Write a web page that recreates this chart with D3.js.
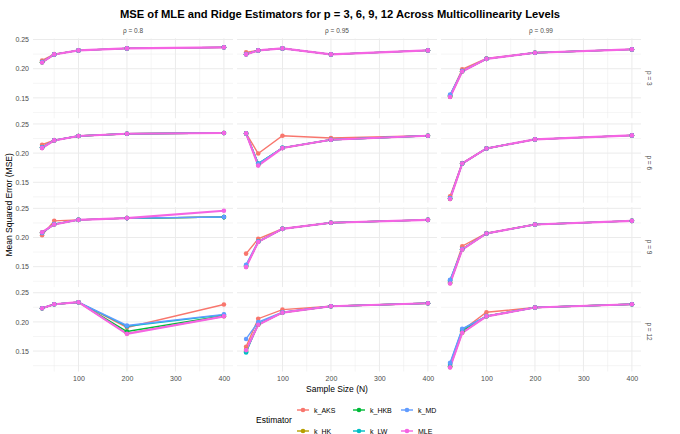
<!DOCTYPE html>
<html><head><meta charset="utf-8">
<script src="https://cdn.jsdelivr.net/npm/d3@7"></script>
<style>body{margin:0;background:#fff;} text{font-family:"Liberation Sans",Arial,sans-serif;}</style>
</head><body><svg id="chart" width="680" height="434"></svg>
<script>
// ---- data ----
const sampleSizes = [25, 50, 100, 200, 400];
const rhoLevels = ["ρ = 0.8", "ρ = 0.95", "ρ = 0.99"];
const pLevels = ["p = 3", "p = 6", "p = 9", "p = 12"];
const estimators = ["k_AKS", "k_HK", "k_HKB", "k_LW", "k_MD", "MLE"];
const colors = ["#F8766D", "#B79F00", "#00BA38", "#00BFC4", "#619CFF", "#F564E3"];
const yTicks = [0.15, 0.20, 0.25];
const xTicks = [100, 200, 300, 400];
// rows of each array: p3-ρ0.8, p3-ρ0.95, p3-ρ0.99, p6-..., p9-..., p12-...
const k_AKS = [
  [0.2141, 0.2250, 0.2314, 0.2348, 0.2366], [0.2280, 0.2314, 0.2348, 0.2245, 0.2314], [0.1540, 0.1991, 0.2175, 0.2273, 0.2331],
  [0.2143, 0.2222, 0.2293, 0.2333, 0.2345], [0.2338, 0.1993, 0.2298, 0.2259, 0.2298], [0.1259, 0.1828, 0.2082, 0.2235, 0.2304],
  [0.2040, 0.2286, 0.2303, 0.2333, 0.2350], [0.1724, 0.1976, 0.2150, 0.2252, 0.2303], [0.1247, 0.1850, 0.2075, 0.2224, 0.2286],
  [0.2234, 0.2303, 0.2338, 0.1905, 0.2298], [0.1575, 0.2055, 0.2211, 0.2269, 0.2321], [0.1260, 0.1853, 0.2165, 0.2246, 0.2303]
];
const k_HK = [
  [0.2110, 0.2245, 0.2314, 0.2348, 0.2366], [0.2248, 0.2314, 0.2348, 0.2245, 0.2314], [0.1520, 0.1955, 0.2169, 0.2273, 0.2331],
  [0.2090, 0.2218, 0.2293, 0.2333, 0.2345], [0.2338, 0.1795, 0.2088, 0.2229, 0.2298], [0.1215, 0.1821, 0.2080, 0.2235, 0.2304],
  [0.2085, 0.2226, 0.2303, 0.2333, 0.2350], [0.1500, 0.1926, 0.2148, 0.2252, 0.2303], [0.1218, 0.1796, 0.2069, 0.2224, 0.2286],
  [0.2234, 0.2303, 0.2338, 0.1800, 0.2098], [0.1520, 0.1953, 0.2160, 0.2269, 0.2321], [0.1225, 0.1815, 0.2097, 0.2246, 0.2303]
];
const k_HKB = [
  [0.2112, 0.2245, 0.2314, 0.2348, 0.2366], [0.2249, 0.2314, 0.2348, 0.2245, 0.2314], [0.1525, 0.1958, 0.2169, 0.2273, 0.2331],
  [0.2095, 0.2219, 0.2293, 0.2333, 0.2345], [0.2338, 0.1818, 0.2089, 0.2229, 0.2298], [0.1220, 0.1821, 0.2080, 0.2235, 0.2304],
  [0.2082, 0.2228, 0.2303, 0.2333, 0.2350], [0.1510, 0.1928, 0.2148, 0.2252, 0.2303], [0.1225, 0.1798, 0.2069, 0.2224, 0.2286],
  [0.2234, 0.2303, 0.2338, 0.1835, 0.2107], [0.1490, 0.1960, 0.2162, 0.2269, 0.2321], [0.1240, 0.1840, 0.2098, 0.2246, 0.2303]
];
const k_LW = [
  [0.2113, 0.2245, 0.2314, 0.2348, 0.2366], [0.2250, 0.2314, 0.2348, 0.2245, 0.2314], [0.1545, 0.1958, 0.2169, 0.2273, 0.2331],
  [0.2098, 0.2219, 0.2293, 0.2333, 0.2345], [0.2338, 0.1821, 0.2090, 0.2229, 0.2298], [0.1225, 0.1821, 0.2080, 0.2235, 0.2304],
  [0.2079, 0.2229, 0.2303, 0.2333, 0.2350], [0.1520, 0.1929, 0.2148, 0.2252, 0.2303], [0.1265, 0.1799, 0.2069, 0.2224, 0.2286],
  [0.2234, 0.2303, 0.2338, 0.1925, 0.2120], [0.1477, 0.1970, 0.2163, 0.2269, 0.2321], [0.1280, 0.1870, 0.2099, 0.2246, 0.2303]
];
const k_MD = [
  [0.2115, 0.2245, 0.2314, 0.2348, 0.2366], [0.2250, 0.2314, 0.2348, 0.2245, 0.2314], [0.1555, 0.1960, 0.2169, 0.2273, 0.2331],
  [0.2100, 0.2220, 0.2293, 0.2333, 0.2345], [0.2338, 0.1815, 0.2090, 0.2229, 0.2298], [0.1230, 0.1821, 0.2080, 0.2235, 0.2304],
  [0.2079, 0.2230, 0.2303, 0.2333, 0.2352], [0.1534, 0.1930, 0.2148, 0.2252, 0.2303], [0.1276, 0.1800, 0.2069, 0.2224, 0.2286],
  [0.2234, 0.2303, 0.2338, 0.1939, 0.2130], [0.1708, 0.1997, 0.2165, 0.2269, 0.2321], [0.1300, 0.1881, 0.2100, 0.2246, 0.2303]
];
const MLE = [
  [0.2107, 0.2245, 0.2314, 0.2348, 0.2366], [0.2245, 0.2314, 0.2348, 0.2245, 0.2314], [0.1514, 0.1952, 0.2169, 0.2273, 0.2331],
  [0.2086, 0.2218, 0.2293, 0.2333, 0.2345], [0.2338, 0.1786, 0.2086, 0.2229, 0.2298], [0.1212, 0.1821, 0.2080, 0.2235, 0.2304],
  [0.2091, 0.2224, 0.2303, 0.2333, 0.2459], [0.1493, 0.1924, 0.2148, 0.2252, 0.2303], [0.1212, 0.1793, 0.2069, 0.2224, 0.2286],
  [0.2234, 0.2303, 0.2338, 0.1795, 0.2095], [0.1517, 0.1951, 0.2159, 0.2269, 0.2321], [0.1220, 0.1812, 0.2095, 0.2246, 0.2303]
];
const seriesValues = [k_AKS, k_HK, k_HKB, k_LW, k_MD, MLE];

// ---- layout ----
const svg = d3.select("#chart");
const panelW = 200, panelH = 80;
const colX = [33, 237, 441];
const rowY = [38.3, 122.7, 207.1, 291.5];
const grid = "#ebebeb";

const allVals = seriesValues.flat(2);
const [vmin, vmax] = d3.extent(allVals);
const ypad = (vmax - vmin) * 0.05;
const xpad = (d3.max(sampleSizes) - d3.min(sampleSizes)) * 0.05;
const color = d3.scaleOrdinal(estimators, colors);

svg.append("text").attr("x", 340).attr("y", 18).attr("text-anchor", "middle")
  .attr("font-size", 11.2).attr("font-weight", "bold").attr("fill", "#000")
  .text("MSE of MLE and Ridge Estimators for p = 3, 6, 9, 12 Across Multicollinearity Levels");

pLevels.forEach((pl, ri) => {
  rhoLevels.forEach((rl, ci) => {
    const x = d3.scaleLinear().domain([d3.min(sampleSizes) - xpad, d3.max(sampleSizes) + xpad]).range([colX[ci], colX[ci] + panelW]);
    const y = d3.scaleLinear().domain([vmin - ypad, vmax + ypad]).range([rowY[ri] + panelH, rowY[ri]]);
    const g = svg.append("g");
    // minor grid
    const xMinor = [50, 150, 250, 350];
    const yMinor = [0.125, 0.175, 0.225];
    g.selectAll(".vxm").data(xMinor).join("line").attr("x1", d => x(d)).attr("x2", d => x(d))
      .attr("y1", rowY[ri]).attr("y2", rowY[ri] + panelH).attr("stroke", grid).attr("stroke-width", 0.5);
    g.selectAll(".hym").data(yMinor).join("line").attr("y1", d => y(d)).attr("y2", d => y(d))
      .attr("x1", colX[ci]).attr("x2", colX[ci] + panelW).attr("stroke", grid).attr("stroke-width", 0.5);
    // major grid
    g.selectAll(".vx").data(xTicks).join("line").attr("x1", d => x(d)).attr("x2", d => x(d))
      .attr("y1", rowY[ri]).attr("y2", rowY[ri] + panelH).attr("stroke", grid).attr("stroke-width", 1);
    g.selectAll(".hy").data(yTicks).join("line").attr("y1", d => y(d)).attr("y2", d => y(d))
      .attr("x1", colX[ci]).attr("x2", colX[ci] + panelW).attr("stroke", grid).attr("stroke-width", 1);

    const idx = ri * 3 + ci;
    const line = d3.line().x((d, i) => x(sampleSizes[i])).y(d => y(d));
    estimators.forEach((e, ei) => {
      g.append("path").datum(seriesValues[ei][idx]).attr("d", line)
        .attr("fill", "none").attr("stroke", color(e)).attr("stroke-width", e === "MLE" ? 2.1 : 1.4);
    });
    estimators.forEach((e, ei) => {
      g.selectAll(null).data(seriesValues[ei][idx]).join("circle")
        .attr("cx", (d, i) => x(sampleSizes[i])).attr("cy", d => y(d)).attr("r", 2.3).attr("fill", color(e));
    });

    if (ci === 0) {
      const ax = svg.append("g").attr("transform", `translate(${colX[0]},0)`)
        .call(d3.axisLeft(y).tickValues(yTicks).tickFormat(d3.format(".2f")).tickSize(0).tickPadding(4));
      ax.select(".domain").remove();
      ax.selectAll("text").attr("font-size", 7).attr("fill", "#4d4d4d").attr("font-family", "Liberation Sans, Arial, sans-serif");
    }
    if (ri === 3) {
      const ax = svg.append("g").attr("transform", `translate(0,${rowY[3] + panelH})`)
        .call(d3.axisBottom(x).tickValues(xTicks).tickSize(0).tickPadding(5));
      ax.select(".domain").remove();
      ax.selectAll("text").attr("font-size", 7).attr("fill", "#4d4d4d").attr("font-family", "Liberation Sans, Arial, sans-serif");
    }
    if (ri === 0) {
      svg.append("text").attr("x", colX[ci] + panelW / 2).attr("y", 33).attr("text-anchor", "middle")
        .attr("font-size", 6.5).attr("fill", "#4d4d4d").text(rl);
    }
    if (ci === 2) {
      svg.append("text").attr("transform", `translate(${colX[2] + panelW + 6},${rowY[ri] + panelH / 2}) rotate(90)`)
        .attr("text-anchor", "middle").attr("font-size", 6.5).attr("fill", "#4d4d4d").text(pl);
    }
  });
});

// axis titles
svg.append("text").attr("x", colX[1] + panelW / 2).attr("y", 392).attr("text-anchor", "middle")
  .attr("font-size", 8.5).attr("fill", "#000").text("Sample Size (N)");
svg.append("text").attr("transform", `translate(12,${(rowY[0] + rowY[3] + panelH) / 2}) rotate(-90)`)
  .attr("text-anchor", "middle").attr("font-size", 8.5).attr("fill", "#000").text("Mean Squared Error (MSE)");

// legend
svg.append("text").attr("x", 256).attr("y", 423).attr("font-size", 8.5).attr("fill", "#000").text("Estimator");
const legCols = [303, 359, 407];
const legRows = [410, 431];
estimators.forEach((e, i) => {
  const cx = legCols[Math.floor(i / 2)], cy = legRows[i % 2];
  const lg = svg.append("g");
  lg.append("line").attr("x1", cx - 6).attr("x2", cx + 6).attr("y1", cy).attr("y2", cy)
    .attr("stroke", color(e)).attr("stroke-width", 1.4);
  lg.append("circle").attr("cx", cx).attr("cy", cy).attr("r", 2.3).attr("fill", color(e));
  lg.append("text").attr("x", cx + 11).attr("y", cy + 2.5).attr("font-size", 7).attr("fill", "#000").text(e);
});
</script></body></html>
